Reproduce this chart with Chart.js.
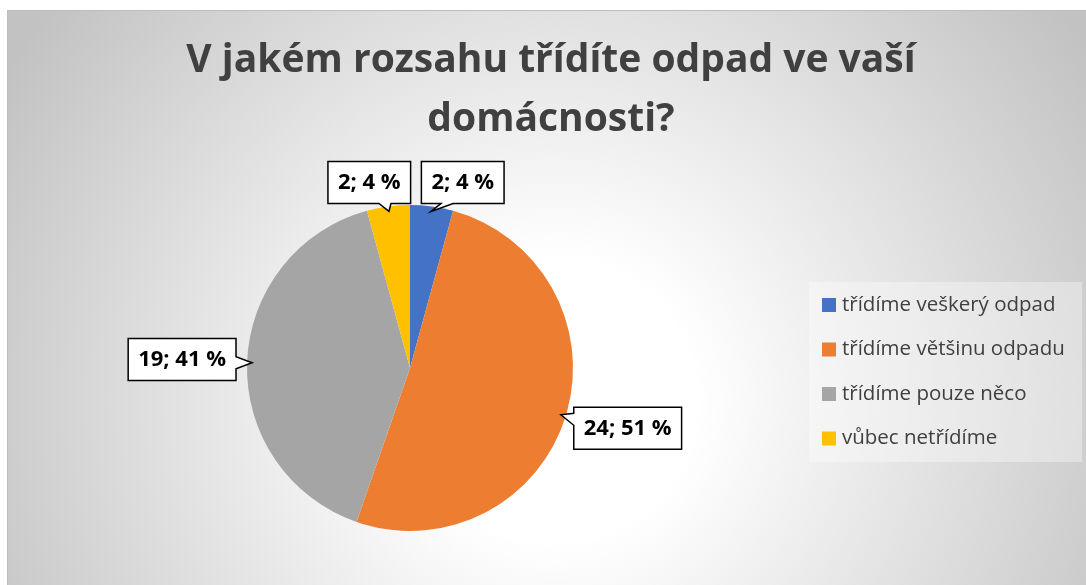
<!DOCTYPE html>
<html>
<head>
<meta charset="utf-8">
<script src="https://cdn.jsdelivr.net/npm/chart.js@4/dist/chart.umd.min.js"></script>
<style>
    html, body { margin: 0; padding: 0; background: #ffffff; }
    #wrap {
        position: absolute; left: 7px; top: 10px;
        width: 1079px; height: 575px;
        box-sizing: border-box;
        border-top: 1px solid #bdbdbd;
        border-left: 1px solid #bdbdbd;
    }
</style>
</head>
<body>
<div id="wrap"><canvas id="chart"></canvas></div>
<script>
// Data
const titleLines = ['V jakém rozsahu třídíte odpad ve vaší', 'domácnosti?'];
const categories = ['třídíme veškerý odpad', 'třídíme většinu odpadu', 'třídíme pouze něco', 'vůbec netřídíme'];
const answers = [2, 24, 19, 2];
const sliceColors = ['#4472C4', '#ED7D31', '#A5A5A5', '#FFC000'];

// callout box offset from the slice edge (box centre), per slice
const calloutOffsets = [[31, -24], [62, 12], [-65, -3], [-19, -24]];

// percentages rounded so they sum to 100 (as Excel does)
function roundedPercents(values) {
    const total = values.reduce((a, b) => a + b, 0);
    const raw = values.map(v => v / total * 100);
    const out = raw.map(Math.floor);
    let rest = 100 - out.reduce((a, b) => a + b, 0);
    const order = raw.map((r, i) => [r - Math.floor(r), i]).sort((a, b) => b[0] - a[0]);
    for (let k = 0; k < rest; k++) out[order[k][1]]++;
    return out;
}

const backgroundPlugin = {
    id: 'bg',
    beforeDraw(chart) {
        const ctx = chart.ctx;
        const w = chart.width, h = chart.height;
        ctx.save();
        const g = ctx.createRadialGradient(547, 389, 0, 547, 389, 640);
        g.addColorStop(0, '#ffffff');
        g.addColorStop(0.22, '#ffffff');
        g.addColorStop(1, '#c2c2c2');
        ctx.fillStyle = g;
        ctx.fillRect(0, 0, w, h);

        // title, centred over the whole chart
        ctx.fillStyle = '#404040';
        ctx.font = 'bold 39px "Open Sans"';
        ctx.textAlign = 'center';
        ctx.textBaseline = 'middle';
        titleLines.forEach((line, i) => ctx.fillText(line, 543, 50 + i * 59));
        ctx.restore();
    }
};

const calloutPlugin = {
    id: 'callouts',
    afterDatasetsDraw(chart) {
        const ctx = chart.ctx;
        const meta = chart.getDatasetMeta(0);
        const values = chart.data.datasets[0].data;
        const pct = roundedPercents(values);
        ctx.save();
        ctx.font = 'bold 22px "Open Sans"';
        meta.data.forEach((arc, i) => {
            const p = arc.getProps(['x', 'y', 'startAngle', 'endAngle', 'outerRadius'], true);
            const mid = (p.startAngle + p.endAngle) / 2;
            const ex = p.x + Math.cos(mid) * p.outerRadius;
            const ey = p.y + Math.sin(mid) * p.outerRadius;
            const tx = p.x + Math.cos(mid) * (p.outerRadius - 5);
            const ty = p.y + Math.sin(mid) * (p.outerRadius - 5);
            const text = `${values[i]}; ${pct[i]} %`;
            const bw = ctx.measureText(text).width + 20;
            const bh = 42;
            const cx = ex + calloutOffsets[i][0];
            const cy = ey + calloutOffsets[i][1];
            const l = cx - bw / 2, r = cx + bw / 2, t = cy - bh / 2, b = cy + bh / 2;

            ctx.beginPath();
            if (ty > b) {
                // pointer on bottom edge
                const bx = Math.min(Math.max(tx + 10 * Math.sign(cx - tx), l + 10), r - 20);
                ctx.moveTo(l, t); ctx.lineTo(r, t); ctx.lineTo(r, b);
                ctx.lineTo(bx + 12, b); ctx.lineTo(tx, ty); ctx.lineTo(bx, b);
                ctx.lineTo(l, b); ctx.closePath();
            } else if (tx < l) {
                // pointer on left edge
                const by = Math.min(Math.max(ty - 6, t + 6), b - 18);
                ctx.moveTo(l, t); ctx.lineTo(r, t); ctx.lineTo(r, b); ctx.lineTo(l, b);
                ctx.lineTo(l, by + 12); ctx.lineTo(tx, ty); ctx.lineTo(l, by);
                ctx.closePath();
            } else {
                // pointer on right edge
                const by = Math.min(Math.max(ty - 6, t + 6), b - 18);
                ctx.moveTo(l, t); ctx.lineTo(r, t); ctx.lineTo(r, by);
                ctx.lineTo(tx, ty); ctx.lineTo(r, by + 12);
                ctx.lineTo(r, b); ctx.lineTo(l, b); ctx.closePath();
            }
            ctx.fillStyle = '#ffffff';
            ctx.fill();
            ctx.lineWidth = 1.5;
            ctx.strokeStyle = '#000000';
            ctx.stroke();

            ctx.fillStyle = '#000000';
            ctx.textAlign = 'center';
            ctx.textBaseline = 'middle';
            ctx.fillText(text, cx, cy);
        });
        ctx.restore();
    }
};

const legendPlugin = {
    id: 'sideLegend',
    afterDraw(chart) {
        const ctx = chart.ctx;
        ctx.save();
        ctx.fillStyle = 'rgba(255,255,255,0.35)';
        ctx.fillRect(801, 271, 273, 180);
        ctx.font = '20.5px "Open Sans"';
        ctx.textBaseline = 'middle';
        ctx.textAlign = 'left';
        chart.data.labels.forEach((label, i) => {
            const y = 294 + i * 44.5;
            ctx.fillStyle = sliceColors[i];
            ctx.fillRect(814, y - 7, 14, 14);
            ctx.fillStyle = '#404040';
            ctx.fillText(label, 834, y);
        });
        ctx.restore();
    }
};

new Chart(document.getElementById('chart').getContext('2d'), {
    type: 'pie',
    data: {
        labels: categories,
        datasets: [{
            data: answers,
            backgroundColor: sliceColors,
            borderWidth: 0,
            hoverOffset: 0
        }]
    },
    options: {
        responsive: true,
        maintainAspectRatio: false,
        animation: false,
        layout: {
            padding: { left: 200, right: 474, top: 194, bottom: 54 }
        },
        plugins: {
            legend: { display: false },
            tooltip: { enabled: false },
            title: { display: false }
        }
    },
    plugins: [backgroundPlugin, calloutPlugin, legendPlugin]
});
</script>
</body>
</html>
